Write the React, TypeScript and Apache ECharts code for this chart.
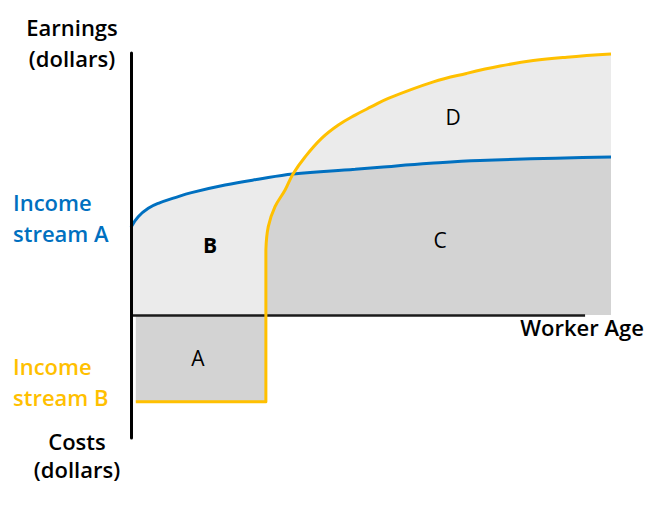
import React, { useEffect, useRef } from "react";
import * as echarts from "echarts";

// Worker age (0-100 scale) and earnings (+) / costs (-) in arbitrary units
const blueAges = [0, 1.5, 3.6, 5.7, 9.2, 12.6, 19.6, 26.5, 33.75, 46.7, 51.9, 62.3, 72.7, 100];
const blueValues = [33.5, 37.5, 40.7, 42.6, 44.8, 46.7, 49.6, 51.8, 53.8, 55.6, 56.4, 57.9, 59.0, 60.3];

const yellowStepAges = [1, 28.1, 28.1];
const yellowStepValues = [-33.2, -33.2, 24.8];

const yellowCurveAges = [28.1, 28.6, 30.0, 32.1, 33.75, 36.3, 39.7, 43.2, 46.7, 50.1, 53.6, 63.0, 69.9, 76.9, 83.8, 90.8, 100];
const yellowCurveValues = [24.8, 33.7, 41.3, 47.7, 53.8, 60.4, 67.4, 72.5, 76.3, 79.5, 82.7, 89.0, 92.2, 95.0, 97.1, 98.4, 99.6];

// age where the two income streams cross
const crossingAge = 33.75;
const xAxisLineEnd = 94.6;

const BLUE = "#0070c0";
const YELLOW = "#ffc000";
const LIGHT = "#ebebeb";
const DARK = "#d3d3d3";
const FONT = "'Open Sans', 'Noto Sans', sans-serif";

const pairs = (xs: number[], ys: number[]) => xs.map((x, i) => [x, ys[i]]);

export default function App() {
  const ref = useRef<HTMLDivElement>(null);
  useEffect(() => {
    document.body.style.margin = "0";
    document.body.style.overflow = "hidden";
    const chart = echarts.init(ref.current!, null, { renderer: "svg" });
    const blue = pairs(blueAges, blueValues);
    const step = pairs(yellowStepAges, yellowStepValues);
    const curve = pairs(yellowCurveAges, yellowCurveValues);
    const blueRight = blue.filter((p) => p[0] >= crossingAge);
    const curveRight = curve.filter((p) => p[0] >= crossingAge);
    const SM = 0.4;
    const areaBase = {
      type: "line",
      smooth: SM,
      symbol: "none",
      silent: true,
      lineStyle: { width: 0 },
      z: 2,
    };
    const txt = (text: string, x: number, y: number, o: any = {}) => ({
      type: "text",
      x,
      y,
      z: 100,
      style: {
        text,
        fontSize: 22,
        fontFamily: FONT,
        fontWeight: 600,
        fill: "#000",
        textAlign: "center",
        textVerticalAlign: "middle",
        ...o,
      },
    });
    chart.setOption({
      animation: false,
      grid: { left: 131, top: 53, width: 480, height: 385 },
      xAxis: { type: "value", min: 0, max: 100, show: false },
      yAxis: {
        type: "value",
        min: -47,
        max: 100,
        z: 10,
        axisLine: { show: true, lineStyle: { color: "#000", width: 3 } },
        axisTick: { show: false },
        axisLabel: { show: false },
        splitLine: { show: false },
      },
      series: [
        // B (and area between curves) : light grey under stream A
        { ...areaBase, data: blue, areaStyle: { color: LIGHT, opacity: 1, origin: 0 } },
        // A : dark grey between zero and stream B costs
        { ...areaBase, smooth: false, data: step, areaStyle: { color: DARK, opacity: 1, origin: 0 } },
        // C : dark grey under stream B
        { ...areaBase, data: curve, areaStyle: { color: DARK, opacity: 1, origin: 0 } },
        // D : light grey above stream A (right of crossing)
        { ...areaBase, data: blueRight, areaStyle: { color: LIGHT, opacity: 1, origin: "end" } },
        // white above stream B (right of crossing)
        { ...areaBase, data: curveRight, areaStyle: { color: "#fff", opacity: 1, origin: "end" } },
        // lines
        {
          type: "line",
          name: "Income stream A",
          data: blue,
          smooth: SM,
          symbol: "none",
          z: 5,
          lineStyle: { color: BLUE, width: 3 },
          markLine: {
            silent: true,
            symbol: ["none", "none"],
            label: { show: false },
            lineStyle: { color: "#1a1a1a", width: 2.5, type: "solid" },
            data: [[{ coord: [0, 0] }, { coord: [xAxisLineEnd, 0] }]],
          },
        },
        {
          type: "line",
          name: "Income stream B step",
          data: step,
          smooth: false,
          symbol: "none",
          z: 5,
          lineStyle: { color: YELLOW, width: 3, join: "round" },
        },
        {
          type: "line",
          name: "Income stream B",
          data: curve,
          smooth: SM,
          symbol: "none",
          z: 5,
          lineStyle: { color: YELLOW, width: 3 },
        },
      ],
      graphic: [
        txt("Earnings", 72, 27),
        txt("(dollars)", 72, 58),
        txt("Income", 13, 202, { fill: BLUE, textAlign: "left" }),
        txt("stream A", 13, 233, { fill: BLUE, textAlign: "left" }),
        txt("Income", 13, 366, { fill: YELLOW, textAlign: "left" }),
        txt("stream B", 13, 397, { fill: YELLOW, textAlign: "left" }),
        txt("Costs", 77, 441),
        txt("(dollars)", 77, 469),
        txt("Worker Age", 582, 327),
        txt("D", 453, 117, { fontSize: 21, fontWeight: 400 }),
        txt("C", 440, 240, { fontSize: 21, fontWeight: 400 }),
        txt("B", 210, 245, { fontSize: 21, fontWeight: 700 }),
        txt("A", 198, 358, { fontSize: 21, fontWeight: 400 }),
      ],
    });
    return () => chart.dispose();
  }, []);
  return <div ref={ref} style={{ width: 660, height: 517 }} />;
}
